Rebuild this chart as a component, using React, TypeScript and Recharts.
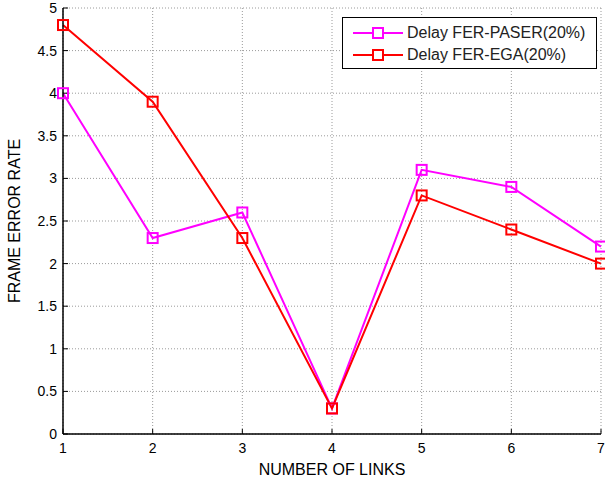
import { CartesianGrid, Legend, Line, LineChart, XAxis, YAxis } from "recharts";

const links = [1, 2, 3, 4, 5, 6, 7];
const paserFer = [4.0, 2.3, 2.6, 0.3, 3.1, 2.9, 2.2];
const egaFer = [4.8, 3.9, 2.3, 0.3, 2.8, 2.4, 2.0];
const yTicks = [0, 0.5, 1, 1.5, 2, 2.5, 3, 3.5, 4, 4.5, 5];

const SERIES = [
  { key: "paser", name: "Delay FER-PASER(20%)", color: "#ff00ff" },
  { key: "ega", name: "Delay FER-EGA(20%)", color: "#ff0000" },
];

const data = links.map((x, i) => ({ x, paser: paserFer[i], ega: egaFer[i] }));

const FONT = "'Liberation Sans', Arial, sans-serif";
const tickStyle = { fill: "#000", fontSize: 14, fontFamily: FONT };

function squareDot(color: string) {
  return (props: any) => {
    const { cx, cy, index } = props;
    if (cx == null || cy == null) return <g key={index} />;
    return (
      <rect
        key={index}
        x={cx - 5}
        y={cy - 5}
        width={10}
        height={10}
        fill="none"
        stroke={color}
        strokeWidth={2}
      />
    );
  };
}

function LegendBox() {
  return (
    <div
      style={{
        border: "1px solid #000",
        background: "#fff",
        width: 255,
        height: 52,
        boxSizing: "border-box",
        fontFamily: FONT,
        fontSize: 16,
        color: "#222",
        paddingTop: 4,
        textAlign: "left",
      }}
    >
      {SERIES.map((s) => (
        <div key={s.key} style={{ display: "flex", alignItems: "center", height: 22 }}>
          <svg width={64} height={14} style={{ marginLeft: 9 }}>
            <line x1={1} y1={7} x2={51} y2={7} stroke={s.color} strokeWidth={2} />
            <rect x={21} y={2} width={10} height={10} fill="#fff" stroke={s.color} strokeWidth={2} />
          </svg>
          <span style={{ marginLeft: -9 }}>{s.name}</span>
        </div>
      ))}
    </div>
  );
}

export default function App() {
  return (
    <div style={{ position: "absolute", left: 0, top: 0, background: "#fff" }}>
      <LineChart width={605} height={478} data={data} margin={{ top: 8, right: 4, bottom: 0, left: 0 }}>
        <CartesianGrid stroke="#9a9a9a" strokeDasharray="1 2" />
        <XAxis
          dataKey="x"
          type="number"
          domain={[1, 7]}
          ticks={links}
          height={44}
          tickSize={-5}
          tickMargin={14}
          tick={tickStyle}
          axisLine={{ stroke: "#000", strokeWidth: 1.5 }}
          tickLine={{ stroke: "#000" }}
          label={{ value: "NUMBER OF LINKS", position: "insideBottom", offset: 3, fill: "#000", fontSize: 16, fontFamily: FONT }}
        />
        <XAxis
          xAxisId="top"
          orientation="top"
          dataKey="x"
          type="number"
          domain={[1, 7]}
          ticks={links}
          height={0}
          tickSize={-5}
          tickFormatter={() => ""}
          axisLine={{ stroke: "#000", strokeWidth: 1.5 }}
          tickLine={{ stroke: "#000" }}
        />
        <YAxis
          type="number"
          domain={[0, 5]}
          ticks={yTicks}
          width={63}
          tickSize={-5}
          tickMargin={11}
          tick={tickStyle}
          interval={0}
          axisLine={{ stroke: "#000", strokeWidth: 1.5 }}
          tickLine={{ stroke: "#000" }}
          label={{ value: "FRAME ERROR RATE", angle: -90, position: "insideLeft", offset: 14, fill: "#000", fontSize: 16, fontFamily: FONT, style: { textAnchor: "middle" } }}
        />
        <YAxis
          yAxisId="right"
          orientation="right"
          type="number"
          domain={[0, 5]}
          ticks={yTicks}
          width={0}
          tickSize={-5}
          interval={0}
          tickFormatter={() => ""}
          axisLine={{ stroke: "#000", strokeWidth: 1.5 }}
          tickLine={{ stroke: "#000" }}
        />
        <Legend
          layout="horizontal"
          verticalAlign="middle"
          align="center"
          content={() => <LegendBox />}
          wrapperStyle={{ position: "absolute", left: 342, top: 17, width: 255, height: 52 }}
        />
        {SERIES.map((s) => (
          <Line
            key={s.key}
            dataKey={s.key}
            name={s.name}
            stroke={s.color}
            strokeWidth={2}
            type="linear"
            dot={squareDot(s.color)}
            activeDot={false}
            isAnimationActive={false}
          />
        ))}
      </LineChart>
    </div>
  );
}
